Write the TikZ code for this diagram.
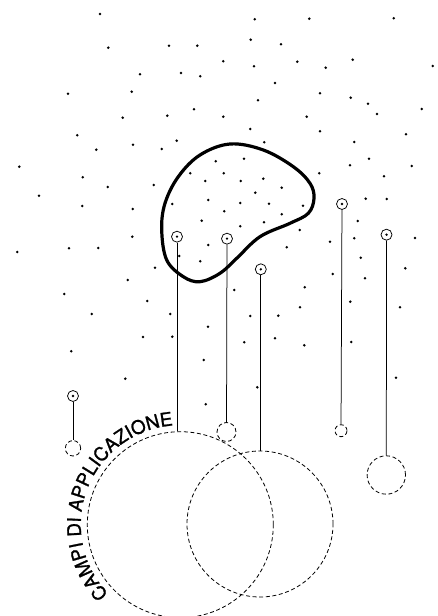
\documentclass[tikz,border=0pt]{standalone}
\usepackage{fontspec}
\newfontfamily\heros[FakeBold=1.2]{TeX Gyre Heros}
\usetikzlibrary{decorations.text}
\tikzset{
  x=1pt,y=1pt,
  dotmark/.style={fill=black},
  pinnode/.style={circle,draw,line width=0.75pt,minimum size=11pt,inner sep=0pt,
    path picture={\fill (path picture bounding box.center) circle (1.3pt);}},
  dashcirc/.style={circle,draw,dash pattern=on 4pt off 2.6pt,line width=0.8pt,inner sep=0pt},
  stem/.style={line width=0.75pt},
  blobline/.style={line width=3.2pt,line join=round}
}
\begin{document}
\begin{tikzpicture}
\useasboundingbox (0,0) rectangle (438,616);
\clip (0,0) rectangle (438,616);
% scattered dots (x, py) -> (x, 616-py)
\foreach \x/\y in {100/14,254.7/19.3,309.3/18.7,393.7/18.3,108.3/47.7,169/45.7,197.3/45.7,250.7/39.7,281/44.3,223.3/61.3,254/66.3,297.3/61.7,325.7/67.7,352.7/59.7,432.7/66,140/74.3,181/73,200.3/76.3,275/83,68/93.7,131.7/91.7,320/93.3,350.7/97.7,368/103.7,258/100.3,194/109.3,167.3/115.7,122.7/117.7,223.3/116.7,306.7/116.7,377/114,421.7/109,250.3/129,320/131.3,77.3/135.3,133/144.7,161.7/149,176.7/140.7,264.3/142.3,354.3/142,406/134.3,96.3/149.7,19.3/166.7,82.7/177.3,107.7/187,153.7/185,215.7/161.3,244/158.7,190.3/173.3,205.3/181,223.7/173.3,240.7/181,263.3/178.7,281.7/187.7,255.3/192.7,319.3/173.3,350/165.3,369/158.7,384/176.3,411.7/166,39/195.7,365.7/198.7,386.7/199,82.3/206,132.7/209,172.3/204,208.3/200,240.3/203,269/203.7,303/205.7,224.3/211.3,281.7/214.3,201.7/220.7,240.3/226.3,264/222.3,299.7/230,357.7/221,132.3/236.7,17.3/252,69/248.3,98.3/248,208.3/245,179.3/256,200.3/261.3,286.7/247.3,330/241.7,354.3/238.3,415/238,360.7/257.7,155/267.7,405.3/268.3,332.7/274,365/278.3,127.7/280,64.3/294,234.3/290,304.7/287.3,147.3/301,350.3/301.7,300/307.3,400/307.3,91.7/314,170.3/314,250.3/316,278.3/315.7,208/326.7,143/337,172.3/336.7,244.3/342.3,275/338.3,304.3/345.3,351.3/342,71.3/351.3,203.7/360,125.3/378.7,396/377.7,257.3/387.3,205.7/404.3}
  \fill[dotmark] (\x,616-\y) circle (1.4pt);
% blob
\draw[blobline] plot[smooth cycle,tension=0.6] coordinates
  {(230,472) (263.3,466) (293.3,449.3) (310,432.7) (314,417.7) (308.3,402.7) (290,392.7) (260,379.3) (236.7,357.7) (220,342.7) (200,334.3) (183.3,339.3) (166.7,356) (161.7,386) (165,412.7) (178.3,439.3) (200,461)};
% dashed circles
\node[dashcirc,minimum size=186pt] (c1) at (180.3,91.3) {};
\node[dashcirc,minimum size=146pt] (c3) at (260,92) {};
\node[dashcirc,minimum size=15.4pt] (c0) at (73,167.7) {};
\node[dashcirc,minimum size=19pt] (c2) at (226.5,184) {};
\node[dashcirc,minimum size=12pt] (c4) at (341,185.3) {};
\node[dashcirc,minimum size=38.4pt] (c5) at (386.3,141) {};
% pins
\node[pinnode] (p0) at (73,220) {};
\node[pinnode] (p1) at (177,379.3) {};
\node[pinnode] (p2) at (227,377.3) {};
\node[pinnode] (p3) at (260.8,346.7) {};
\node[pinnode] (p4) at (342,412) {};
\node[pinnode] (p5) at (386.5,381.3) {};
% stems
\draw[stem] (p0) -- (c0);
\draw[stem] (p1) -- (p1 |- c1.north);
\draw[stem] (p2) -- (c2);
\draw[stem] (p3) -- (p3 |- c3.north);
\draw[stem] (p4) -- (c4);
\draw[stem] (p5) -- (c5);
% curved label
\begingroup
\heros\fontsize{18.8}{20}\selectfont
\path[decorate,decoration={text along path,
  text={CAMPI DI APPLICAZIONE}}]
  (c1.center) ++(224:99.5) arc[start angle=224,end angle=70,radius=99.5];
\endgroup
\end{tikzpicture}
\end{document}
